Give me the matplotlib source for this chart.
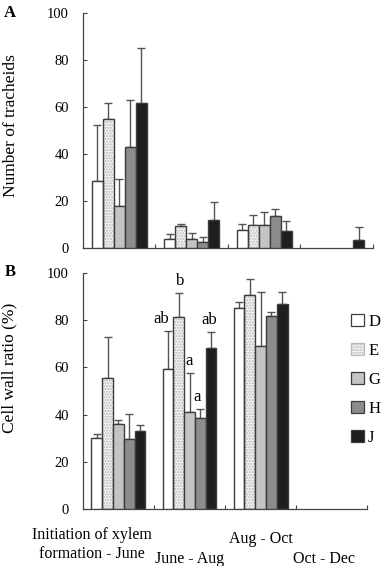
import numpy as np
import matplotlib
matplotlib.use("Agg")
import matplotlib.pyplot as plt
from matplotlib.patches import Patch

plt.rcParams['font.family'] = ['Liberation Serif', 'DejaVu Serif']

periods = ["Initiation of xylem\nformation - June", "June - Aug", "Aug - Oct", "Oct - Dec"]
series = ["D", "E", "G", "H", "J"]
nan = np.nan

# A: number of tracheids (mean, upper SD)
trach_mean = {
    "D": [28.5, 3.7, 7.7, nan],
    "E": [54.8, 9.4, 9.8, nan],
    "G": [17.9, 4.0, 9.7, nan],
    "H": [43.0, 2.6, 13.7, nan],
    "J": [61.5, 12.1, 7.4, 3.4],
}
trach_sd = {
    "D": [23.8, 2.4, 2.7, nan],
    "E": [6.8, 0.8, 4.3, nan],
    "G": [11.6, 2.4, 5.8, nan],
    "H": [20.0, 2.2, 3.1, nan],
    "J": [23.6, 7.4, 4.3, 5.6],
}

# B: cell wall ratio (%)
wall_mean = {
    "D": [30.1, 59.2, 85.0, nan],
    "E": [55.4, 81.2, 90.6, nan],
    "G": [36.0, 41.1, 69.0, nan],
    "H": [29.7, 38.4, 81.7, nan],
    "J": [33.0, 68.2, 86.7, nan],
}
wall_sd = {
    "D": [1.7, 16.2, 2.5, nan],
    "E": [17.3, 10.2, 7.0, nan],
    "G": [1.7, 16.4, 23.0, nan],
    "H": [10.7, 4.0, 1.9, nan],
    "J": [2.6, 6.8, 5.1, nan],
}
# significance letters for June - Aug
letters = {"D": "ab", "E": "b", "G": "a", "H": "a", "J": "ab"}
letter_dx = {"D": -5, "E": 1, "G": 0, "H": -2, "J": -1}  # small nudges, points

fills = {"D": "white", "E": "#f4f4f4", "G": "#c4c4c4", "H": "#8c8c8c", "J": "#1e1e1e"}
edge = "#3c3c3c"
width = 0.152

fig = plt.figure(figsize=(3.84, 5.66), dpi=100)
axA = fig.add_axes([0.216, 0.5618, 0.755, 0.4152])
axB = fig.add_axes([0.216, 0.1007, 0.740, 0.4170])


def draw_bars(ax, means, sds, with_letters=False):
    x = np.arange(len(periods)) + 0.5
    for i, s in enumerate(series):
        xs = x + (i - 2) * width
        m = np.array(means[s])
        e = np.array(sds[s])
        if s == "E":
            # dotted fill, then the dark outline on top
            ax.bar(xs, m, width, color=fills[s], edgecolor="#b8b8b8",
                   hatch="......", linewidth=0, zorder=2)
            ax.bar(xs, m, width, fill=False, edgecolor=edge, linewidth=1.0, zorder=3)
        else:
            ax.bar(xs, m, width, color=fills[s], edgecolor=edge, linewidth=1.0, zorder=3)
        ax.errorbar(xs, m, yerr=[np.zeros_like(e), e], fmt="none", ecolor="#555555",
                    elinewidth=1.0, capsize=3, capthick=1.0, zorder=1)
        if with_letters:
            ax.annotate(letters[s], (xs[1], m[1] + e[1]), xytext=(letter_dx[s], 6),
                        textcoords="offset points", ha="center", va="baseline",
                        fontsize=12)
    ax.set_xlim(0, 4)
    ax.set_ylim(0, 100)
    ax.set_yticks([0, 20, 40, 60, 80, 100])
    ax.set_xticks([1, 2, 3, 4])
    ax.set_xticklabels([])
    ax.tick_params(axis="both", direction="in", length=3, width=0.8, color="#444444",
                   labelsize=10.5)
    ax.tick_params(axis="y", pad=10)
    for sp in ["top", "right"]:
        ax.spines[sp].set_visible(False)
    for sp in ["left", "bottom"]:
        ax.spines[sp].set_color("#444444")
        ax.spines[sp].set_linewidth(0.9)


draw_bars(axA, trach_mean, trach_sd)
draw_bars(axB, wall_mean, wall_sd, with_letters=True)

axA.set_ylabel("Number of tracheids", fontsize=12.5)
axB.set_ylabel("Cell wall ratio (%)", fontsize=12.5)
axA.yaxis.set_label_coords(-0.222, 0.52)
axB.yaxis.set_label_coords(-0.23, 0.60)

fig.text(0.026, 0.977, "A", fontsize=12, fontweight="bold", va="center", ha="center")
fig.text(0.026, 0.519, "B", fontsize=12, fontweight="bold", va="center", ha="center")

# period labels under panel B (staggered as in the figure)
label_x = [0.13, 1.5, 2.5, 3.4]
label_y = [-0.075, -0.18, -0.095, -0.18]
for name, lx, ly in zip(periods, label_x, label_y):
    axB.text(lx, ly, name, transform=axB.get_xaxis_transform(), ha="center", va="top",
             fontsize=11.5, linespacing=1.25)

handles = []
for s in series:
    if s == "E":
        handles.append(Patch(facecolor=fills[s], edgecolor="#b8b8b8", hatch="......",
                             linewidth=0.9))
    else:
        handles.append(Patch(facecolor=fills[s], edgecolor=edge, linewidth=0.9))
fig.legend(handles, series, loc="upper left", bbox_to_anchor=(0.915, 0.445),
           frameon=False, fontsize=12, handlelength=0.75, handleheight=0.75,
           handletextpad=0.25, labelspacing=0.78, borderpad=0, borderaxespad=0)

fig.savefig("out.png", dpi=100)
